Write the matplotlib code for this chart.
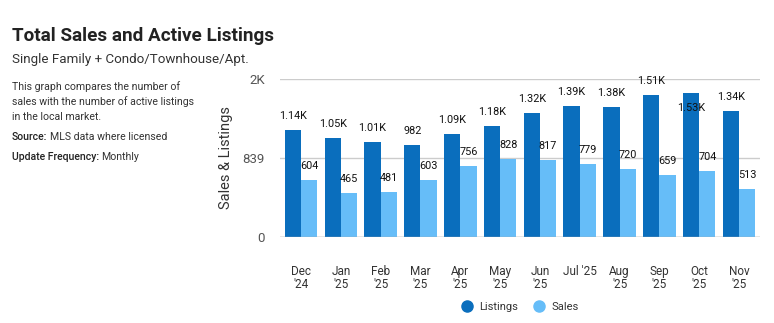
import matplotlib
matplotlib.use("Agg")
import matplotlib.pyplot as plt
import numpy as np
from matplotlib.lines import Line2D

months = ["Dec\n'24", "Jan\n'25", "Feb\n'25", "Mar\n'25", "Apr\n'25", "May\n'25",
          "Jun\n'25", "Jul '25", "Aug\n'25", "Sep\n'25", "Oct\n'25", "Nov\n'25"]
listings = [1140, 1050, 1010, 982, 1090, 1180, 1320, 1390, 1380, 1510, 1530, 1340]
listing_labels = ["1.14K", "1.05K", "1.01K", "982", "1.09K", "1.18K", "1.32K",
                  "1.39K", "1.38K", "1.51K", "1.53K", "1.34K"]
sales = [604, 465, 481, 603, 756, 828, 817, 779, 720, 659, 704, 513]
ytick_vals = [0, 839, 1678]
ytick_labels = ["0", "839", "2K"]

C_LIST = "#0a6ebd"
C_SALES = "#66bdf8"
FONT = "Roboto"

plt.rcParams['font.family'] = [FONT, 'DejaVu Sans']

fig = plt.figure(figsize=(7.74, 3.23), dpi=100)
ax = fig.add_axes([280/774, 1-237/323, 480/774, 158/323])

x = np.arange(len(months))
w = 0.41
ax.bar(x - w/2, listings, width=w, color=C_LIST, zorder=3)
ax.bar(x + w/2, sales, width=w, color=C_SALES, zorder=3)

ax.set_xlim(-0.53, len(months) - 0.47)
ax.set_ylim(0, 1678)
ax.set_yticks(ytick_vals)
ax.set_yticklabels(ytick_labels, color="#555555", fontsize=9.5)
ax.set_xticks(x)
ax.set_xticklabels(months, fontsize=8.5, color="#333333", va="top", linespacing=1.0)
ax.tick_params(axis="both", length=0)
ax.tick_params(axis="y", pad=11)
ax.tick_params(axis="x", pad=20)
for s in ax.spines.values():
    s.set_visible(False)
ax.grid(axis="y", color="#cccccc", linewidth=1, zorder=0)
ax.axhline(0, color="#aaaaaa", linewidth=1, zorder=4)
ax.set_ylabel("Sales & Listings", fontsize=10.5, color="#333333", labelpad=7)

for i in range(len(months)):
    if listings[i] > 1520:
        ax.annotate(listing_labels[i], (x[i] - w/2, listings[i]), xytext=(0, -11),
                    textcoords="offset points", ha="center", va="center", fontsize=7.8,
                    color="#111111", zorder=5)
    else:
        ax.annotate(listing_labels[i], (x[i] - w/2, listings[i]), xytext=(0, 10),
                    textcoords="offset points", ha="center", va="center", fontsize=7.8,
                    color="#111111", zorder=5, annotation_clip=False)
    ax.annotate(str(sales[i]), (x[i] + w/2, sales[i]), xytext=(0, 10),
                textcoords="offset points", ha="center", va="center", fontsize=7.8,
                color="#111111", zorder=5)

fig.text(12/774, 1-36/323, "Total Sales and Active Listings", fontsize=13.6, fontweight="bold",
         color="#222222", va="center", ha="left")
fig.text(12/774, 1-60/323, "Single Family + Condo/Townhouse/Apt.", fontsize=9.6,
         color="#333333", va="center", ha="left")
body = ["This graph compares the number of", "sales with the number of active listings",
        "in the local market."]
for k, line in enumerate(body):
    fig.text(12/774, 1-(87+15*k)/323, line, fontsize=7.6, color="#333333", va="center", ha="left")

fig.canvas.draw()
renderer = fig.canvas.get_renderer()
for ypix, bold, rest in [(137, "Source:", " MLS data where licensed"),
                         (157, "Update Frequency:", " Monthly")]:
    t = fig.text(12/774, 1-ypix/323, bold, fontsize=7.6, color="#222222", va="center",
                 ha="left", fontweight="medium")
    bb = t.get_window_extent(renderer=renderer)
    fig.text(bb.x1/774 + 0.003, 1-ypix/323, rest.strip(), fontsize=7.6, color="#333333",
             va="center", ha="left")

handles = [Line2D([], [], marker="o", linestyle="", markersize=8, color=C_LIST),
           Line2D([], [], marker="o", linestyle="", markersize=8, color=C_SALES)]
fig.legend(handles, ["Listings", "Sales"], loc="center", bbox_to_anchor=(517/774, 1-307/323),
           ncol=2, frameon=False, fontsize=8, handletextpad=0.1, columnspacing=0.9,
           labelcolor="#333333")

fig.savefig("out.png", dpi=100)
